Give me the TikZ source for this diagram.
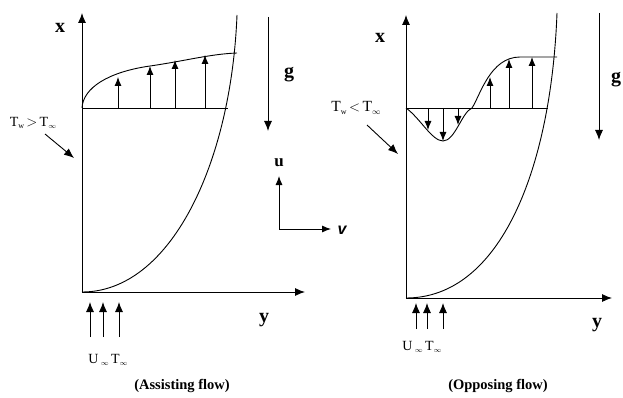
\documentclass[tikz,border=0pt]{standalone}
\usepackage{fontspec}
\setmainfont{Liberation Serif}
\newfontfamily\arialf{Liberation Sans}
\usetikzlibrary{arrows.meta}
\newcommand\sublo[1]{\raisebox{-2.5pt}{\fontsize{8}{8}\selectfont #1}}
\newcommand\subinf{\raisebox{-2.5pt}{$\scriptscriptstyle\infty$}}
\begin{document}
\begin{tikzpicture}[x=1pt,y=-1pt,
  ln/.style={line width=0.9pt},
  arr/.style={line width=0.9pt,-{Latex[length=10pt,width=8pt]}},
  sarr/.style={line width=0.9pt,-{Latex[length=9pt,width=7pt]}},
  axlab/.style={font=\fontsize{20}{22}\selectfont\bfseries,inner sep=0pt},
  tlab/.style={font=\fontsize{14}{16}\selectfont,inner sep=0pt},
  captext/.style={font=\fontsize{14.5}{16}\selectfont\bfseries,inner sep=0pt}]
\useasboundingbox (0,0) rectangle (623,398);
% ---------- left panel ----------
\coordinate (LO) at (82,292);
\coordinate (LT) at (82,13);
\coordinate (LR) at (305,292);
\draw[arr] (LO) -- (LT);
\draw[arr] (LO) -- (LR);
\node[axlab] (lx) at (60,28) {x};
\node[axlab] (ly) at (264,320) {y};
\draw[ln] (LO) .. controls (170,292) and (231,165) .. (237,15);
\coordinate (LH1) at (82,108);
\coordinate (LH2) at (228,108);
\draw[ln] (LH1) -- (LH2);
\draw[ln] (LH1) .. controls (83,88) and (108,72) .. (150,66) .. controls (185,61) and (210,54) .. (237,53);
\foreach \xx/\yy in {118/77,150/66,175/60,205/55}{
  \draw[sarr] (\xx,108) -- (\xx,\yy);}
\coordinate (g1a) at (268,17);
\coordinate (g1b) at (268,131);
\draw[arr] (g1a) -- (g1b);
\node[axlab] (g1) at (289,75) {g};
\node[tlab] (tw1) at (33,123) {T\sublo{w}\,$>$\,T\subinf};
\coordinate (tw1a) at (45,134);
\coordinate (tw1b) at (74,158);
\draw[arr] (tw1a) -- (tw1b);
% u v axes
\coordinate (uvO) at (279,229);
\coordinate (uT) at (279,176);
\coordinate (vR) at (331,229);
\draw[sarr] (uvO) -- (uT);
\draw[sarr] (uvO) -- (vR);
\node[font=\fontsize{17}{18}\selectfont\bfseries,inner sep=0pt] (u) at (279,163) {u};
\node[font=\arialf\fontsize{16}{17}\selectfont\bfseries\itshape,inner sep=0pt] (v) at (342,230) {v};
% inflow arrows
\foreach \xx in {90,103,119}{
  \draw[arr] (\xx,337) -- (\xx,302);}
\node[tlab] (uinf1) at (108,360) {U\,\subinf\,T\subinf};
\node[captext] (c1) at (182,386) {(Assisting flow)};
% ---------- right panel ----------
\coordinate (RO) at (406,298);
\coordinate (RT) at (406,15);
\coordinate (RR) at (612,298);
\draw[arr] (RO) -- (RT);
\draw[arr] (RO) -- (RR);
\node[axlab] (rx) at (380,38) {x};
\node[axlab] (ry) at (597,325) {y};
\draw[ln] (RO) .. controls (500,298) and (551,170) .. (557,13);
\coordinate (RH1) at (406,108);
\coordinate (RH2) at (548,108);
\draw[ln] (RH1) -- (RH2);
\draw[ln] (RH1) .. controls (420,118) and (432,141) .. (443,141)
  .. controls (455,141) and (462,112) .. (472,108)
  .. controls (480,96) and (490,57) .. (520,57) -- (557,57);
\foreach \xx/\yy in {428/130,443/141,458/125}{
  \draw[sarr] (\xx,108) -- (\xx,\yy);}
\foreach \xx/\yy in {490/77,509/59,532/57}{
  \draw[sarr] (\xx,108) -- (\xx,\yy);}
\coordinate (g2a) at (599,13);
\coordinate (g2b) at (599,140);
\draw[arr] (g2a) -- (g2b);
\node[axlab,anchor=west] (g2) at (611,80) {g};
\node[tlab,font=\fontsize{15.5}{17}\selectfont] (tw2) at (356,108) {T\sublo{w}\,$<$\,T\subinf};
\coordinate (tw2a) at (367,125);
\coordinate (tw2b) at (398,154);
\draw[arr] (tw2a) -- (tw2b);
\foreach \xx in {416,427,443}{
  \draw[arr] (\xx,329) -- (\xx,303);}
\node[tlab] (uinf2) at (422,347) {U\,\subinf\,T\subinf};
\node[captext] (c2) at (498,386) {(Opposing flow)};
\end{tikzpicture}
\end{document}
